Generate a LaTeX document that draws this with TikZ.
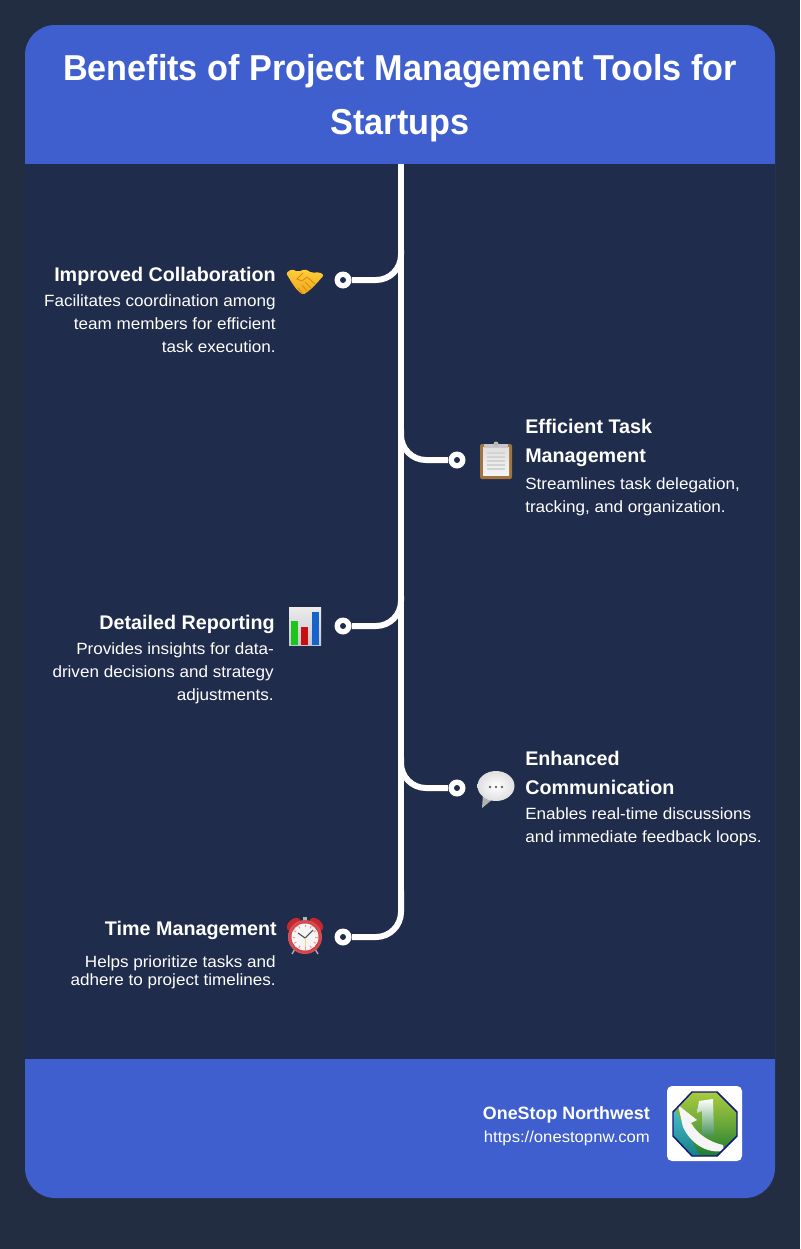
\documentclass[tikz,border=0pt]{standalone}
\usepackage{fontspec}
\setmainfont{Liberation Sans}
\newfontfamily\TitleFont[FakeStretch=0.95]{Liberation Sans}
\newfontfamily\NoteFont[FakeStretch=1.05]{Liberation Sans}
\usetikzlibrary{positioning,shadings}
\definecolor{PageBg}{HTML}{222D41}
\definecolor{BodyBg}{HTML}{202C4B}
\definecolor{CardBlue}{HTML}{405FCF}
\definecolor{HandGold}{HTML}{FFCF3A}
\definecolor{HandDeep}{HTML}{EDA51C}
\definecolor{HandDark}{HTML}{D98E10}
\definecolor{WoodBrown}{HTML}{A0733F}
\definecolor{BellRed}{HTML}{C9272E}
\definecolor{BarGreen}{HTML}{1CC41C}
\definecolor{BarRed}{HTML}{C80F0F}
\definecolor{BarBlue}{HTML}{1663CC}
\definecolor{LogoLime}{HTML}{A9CB3E}
\definecolor{LogoGreen}{HTML}{1D7B33}
\definecolor{LogoTeal}{HTML}{22B5C2}
\definecolor{LogoNavy}{HTML}{10187A}

\begin{document}
\begin{tikzpicture}[x=0.75pt,y=-0.75pt,
	Wire/.style={draw=white,line width=4.5pt,rounded corners=18.75pt},
	Dot/.style={circle,fill=white,minimum size=12.75pt,inner sep=0pt,
		path picture={\fill[BodyBg] (path picture bounding box.center) circle[radius=3];}},
	Title/.style={text=white,font=\fontsize{27}{40.5}\TitleFont\bfseries,align=center,inner sep=0pt},
	Head/.style={text=white,font=\fontsize{14.8}{21.75}\selectfont\bfseries,inner sep=0pt},
	LeftHead/.style={Head,anchor=east,align=right},
	RightHead/.style={Head,anchor=west,align=left},
	Note/.style={text=white,font=\fontsize{12.2}{17.25}\NoteFont,inner sep=0pt},
	LeftNote/.style={Note,anchor=east,align=right},
	RightNote/.style={Note,anchor=west,align=left},
]
	% page and card
	\fill[PageBg] (0,0) rectangle (800,1249);
	\useasboundingbox (0,0) rectangle (800,1249);
	\fill[CardBlue,rounded corners=22.5pt] (25,25) rectangle (775,1198);
	\fill[BodyBg] (25,164) rectangle (775,1059);

	\node[Title] (Heading) at (400,98) {Benefits of Project Management Tools for\\Startups};

	% timeline
	\coordinate (TrunkTop) at (401,164);
	\coordinate (TrunkA) at (401,250);
	\coordinate (TrunkB) at (401,430);
	\coordinate (TrunkC) at (401,596);
	\coordinate (TrunkD) at (401,758);
	\coordinate (TrunkE) at (401,890);
	\draw[Wire] (TrunkTop) -- (TrunkE);
	\node[Dot] (DotA) at (343,280) {};
	\node[Dot] (DotB) at (457,460) {};
	\node[Dot] (DotC) at (343,626) {};
	\node[Dot] (DotD) at (457,788) {};
	\node[Dot] (DotE) at (343,937) {};
	\draw[Wire] (DotA) -| (TrunkA);
	\draw[Wire] (DotB) -| (TrunkB);
	\draw[Wire] (DotC) -| (TrunkC);
	\draw[Wire] (DotD) -| (TrunkD);
	\draw[Wire] (DotE) -| (TrunkE);

	% labels
	\node[LeftHead] (HeadA) at (276,276) {Improved Collaboration};
	\node[LeftNote] (NoteA) at (276,324) {Facilitates coordination among\\team members for efficient\\task execution.};
	\node[RightHead] (HeadB) at (525,443) {Efficient Task\\Management};
	\node[RightNote] (NoteB) at (525,497) {Streamlines task delegation,\\tracking, and organization.};
	\node[LeftHead] (HeadC) at (275,624) {Detailed Reporting};
	\node[LeftNote] (NoteC) at (274,673) {Provides insights for data-\\driven decisions and strategy\\adjustments.};
	\node[RightHead] (HeadD) at (525,773) {Enhanced\\Communication};
	\node[RightNote] (NoteD) at (525,827) {Enables real-time discussions\\and immediate feedback loops.};
	\node[LeftHead] (HeadE) at (277,930) {Time Management};
	\node[LeftNote] (NoteE) at (276,972) {Helps prioritize tasks and\\[-3.75pt]adhere to project timelines.};

	% handshake
	\begin{scope}[shift={(305,282)}]
		\shade[top color=HandGold,bottom color=HandDeep,rounded corners=1.5pt] (-19,-9) -- (-13,-13) -- (-7,-10) -- (0,-13) -- (7,-9) -- (14,-10) -- (19,-7) -- (12,1) -- (5,8) -- (-2,13) -- (-8,8) -- (-13,1) -- cycle;
		\draw[HandDark,line width=0.7pt] (-2,-9) -- (-8,-3) -- (-3,-1) -- (2,-5) -- (10,2) (6,6) -- (0,0) (2,9) -- (-3,3) (-3,11) -- (-7,6);
	\end{scope}

	% clipboard
	\begin{scope}[shift={(496,461)}]
		\fill[WoodBrown,rounded corners=1.5pt] (-16,-17) rectangle (16,18);
		\shade[top color=gray!25,bottom color=gray!8] (-13,-14) rectangle (13,14);
		\fill[gray!45] (-12,-17) rectangle (12,-13);
		\fill[gray!55] (0,-17) circle[radius=2.5];
		\foreach \y in {-8,-4,0,4,8}
			\draw[gray!35,line width=0.9pt] (-9,\y) -- (9,\y);
	\end{scope}

	% bar chart
	\begin{scope}[shift={(305,626)}]
		\shade[top color=gray!15,bottom color=blue!12!gray!40] (-16,-19) rectangle (16,19);
		\fill[BarGreen] (-14,-5) rectangle (-7,19);
		\fill[BarRed] (-4,1) rectangle (3,19);
		\fill[BarBlue] (7,-14) rectangle (14,19);
	\end{scope}

	% speech bubble
	\begin{scope}[shift={(496,786)}]
		\fill[gray!60] (-13,8) -- (-14,22) -- (-3,13) -- cycle;
		\shade[inner color=white,outer color=gray!25] (0,0) ellipse[x radius=18.5,y radius=15];
		\foreach \x in {-6,0,6}
			\fill[gray!80!black] (\x,1) circle[radius=1.3];
	\end{scope}

	% alarm clock
	\begin{scope}[shift={(305,937)}]
		\draw[gray!60,line width=1pt] (-10,12) -- (-13,17) (10,12) -- (13,17);
		\fill[BellRed,rotate=-42] (0,-17) ellipse[x radius=8,y radius=5];
		\fill[BellRed,rotate=42] (0,-17) ellipse[x radius=8,y radius=5];
		\fill[gray!60] (-2,-20) rectangle (2,-15);
		\shade[inner color=red!75!black,outer color=BellRed!80!white] (0,0) circle[radius=17];
		\fill[gray!8] (0,0) circle[radius=13.5];
		\foreach \a in {0,30,...,330}
			\draw[red!45,line width=0.7pt] (\a:10) -- (\a:12.5);
		\draw[black!70,line width=0.8pt] (-7,-4) -- (0,1) -- (8,-7);
		\draw[orange!40,line width=0.7pt] (0,1) -- (0,10);
	\end{scope}

	% footer
	\node[text=white,font=\fontsize{13.4}{16}\selectfont\bfseries,anchor=east,inner sep=0pt] (Brand) at (650,1115) {OneStop Northwest};
	\node[text=white,font=\fontsize{11.9}{14}\NoteFont,anchor=east,inner sep=0pt] (Link) at (650,1138) {https://onestopnw.com};

	% logo
	\fill[white,rounded corners=3.75pt] (667,1086) rectangle (742,1161);
	\begin{scope}
		\clip (692,1092) -- (717,1092) -- (737,1112) -- (737,1136) -- (717,1156) -- (692,1156) -- (673,1136) -- (673,1112) -- cycle;
		\shade[top color=LogoLime,bottom color=LogoGreen,middle color=LogoLime!55!LogoGreen] (673,1092) rectangle (737,1156);
		\shade[top color=LogoTeal!80!white,bottom color=LogoTeal!70!black] (673,1106) -- (700,1156) -- (673,1156) -- cycle;
		\shade[top color=white,bottom color=white!20!LogoGreen] (699,1101) -- (713,1099) -- (714,1135) -- (702,1135) -- (702,1111) -- (697,1113) -- cycle;
		\fill[gray!8] (678,1105) -- (697,1120) -- (691,1123) .. controls (698,1135) and (710,1142) .. (723,1145) -- (724,1151) .. controls (705,1154) and (690,1142) .. (683,1127) -- cycle;
	\end{scope}
	\draw[LogoNavy,line width=1.1pt] (692,1092) -- (717,1092) -- (737,1112) -- (737,1136) -- (717,1156) -- (692,1156) -- (673,1136) -- (673,1112) -- cycle;
\end{tikzpicture}
\end{document}
